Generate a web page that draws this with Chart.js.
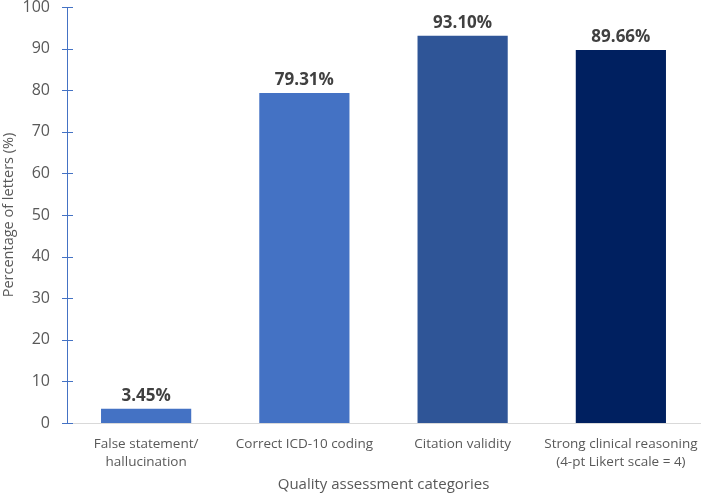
<!DOCTYPE html>
<html>
<head>
<meta charset="utf-8">
<script src="https://cdn.jsdelivr.net/npm/chart.js@4/dist/chart.umd.min.js"></script>
<style>
  html, body { margin: 0; padding: 0; background: #fff; }
  #wrap { width: 702px; height: 494px; }
</style>
</head>
<body>
<div id="wrap"><canvas id="myChart"></canvas></div>
<script>
const categories = [
  ['False statement/', 'hallucination'],
  'Correct ICD-10 coding',
  'Citation validity',
  ['Strong clinical reasoning', '(4-pt Likert scale = 4)']
];
const percentages = [3.45, 79.31, 93.10, 89.66];
const yMin = 0;
const yMax = 100;
const yStep = 10;

const FONT = "'Open Sans', sans-serif";

// etiquetas encima de cada barra
const barLabels = {
  id: 'barLabels',
  afterDatasetsDraw(chart) {
    const ctx = chart.ctx;
    const meta = chart.getDatasetMeta(0);
    ctx.save();
    ctx.font = "bold 17px " + FONT;
    ctx.fillStyle = '#404040';
    ctx.textAlign = 'center';
    ctx.textBaseline = 'alphabetic';
    meta.data.forEach(function(bar, i) {
      ctx.fillText(percentages[i].toFixed(2) + '%', bar.x, bar.y - 8);
    });
    ctx.restore();
  }
};

// marcas del eje y que cruzan la linea
const crossTicks = {
  id: 'crossTicks',
  afterDraw(chart) {
    const ctx = chart.ctx;
    const scale = chart.scales.y;
    const x = scale.right;
    ctx.save();
    ctx.strokeStyle = '#4472C4';
    ctx.lineWidth = 1;
    scale.ticks.forEach(function(t) {
      const y = Math.round(scale.getPixelForValue(t.value)) + 0.5;
      ctx.beginPath();
      ctx.moveTo(x - 5, y);
      ctx.lineTo(x + 6, y);
      ctx.stroke();
    });
    ctx.restore();
  }
};

const data = {
  labels: categories,
  datasets: [{
    label: 'Quality',
    data: percentages,
    backgroundColor: ['#4472C4', '#4472C4', '#2F5597', '#002060'],
    borderWidth: 0,
    barPercentage: 0.57,
    categoryPercentage: 1.0
  }]
};

const config = {
  type: 'bar',
  data: data,
  plugins: [barLabels, crossTicks],
  options: {
    responsive: true,
    maintainAspectRatio: false,
    animation: false,
    layout: { padding: { left: 0, right: 2, top: 7, bottom: 0 } },
    plugins: {
      legend: { display: false },
      tooltip: { enabled: false }
    },
    scales: {
      x: {
        grid: { display: false, drawTicks: false },
        border: { display: true, color: '#D9D9D9', width: 1 },
        ticks: {
          color: '#595959',
          font: { family: FONT, size: 13.5, lineHeight: 1.35 },
          padding: 12,
          maxRotation: 0,
          autoSkip: false
        },
        title: {
          display: true,
          text: 'Quality assessment categories',
          color: '#595959',
          font: { family: FONT, size: 15 },
          padding: 0
        },
        afterFit(scale) {
          scale.height = 71;
          scale.paddingLeft = 0;
          scale.paddingRight = 0;
        }
      },
      y: {
        min: yMin,
        max: yMax,
        grid: { display: false, drawTicks: false },
        border: { display: true, color: '#4472C4', width: 1 },
        ticks: {
          stepSize: yStep,
          color: '#595959',
          font: { family: FONT, size: 16 },
          padding: 17
        },
        title: {
          display: true,
          text: 'Percentage of letters (%)',
          color: '#595959',
          font: { family: FONT, size: 14.5 },
          padding: 0
        },
        afterFit(scale) {
          scale.width = 67;
          scale.paddingTop = 0;
          scale.paddingBottom = 0;
        }
      }
    }
  }
};

var myBarChart = new Chart(document.getElementById('myChart'), config);
</script>
</body>
</html>
